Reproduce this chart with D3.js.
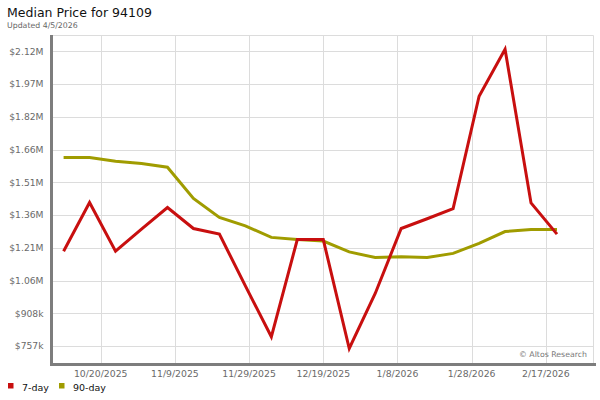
<!doctype html>
<html>
  <head>
    <meta charset="utf-8">
    <title>Median Price for 94109</title>
    <script src="https://cdnjs.cloudflare.com/ajax/libs/d3/7.8.5/d3.min.js"></script>
    <style>
      html, body { margin: 0; padding: 0; background: #fff; }
      svg { display: block; font-family: "DejaVu Sans", sans-serif; }
    </style>
  </head>
  <body>
    <div id="chart"></div>

    <script>
      // weekly sample dates
      const dates = [
        '10/10/2025', '10/17/2025', '10/24/2025', '10/31/2025', '11/7/2025',
        '11/14/2025', '11/21/2025', '11/28/2025', '12/5/2025', '12/12/2025',
        '12/19/2025', '12/26/2025', '1/2/2026', '1/9/2026', '1/16/2026',
        '1/23/2026', '1/30/2026', '2/6/2026', '2/13/2026', '2/20/2026'
      ];

      // median price, in dollars
      const sevenDay = [
        1195000, 1420000, 1195000, 1297000, 1397000,
        1300000, 1274000, 1035000, 800000, 1249000,
        1249000, 746000, 1000000, 1300000, 1345000,
        1392000, 1911000, 2128000, 1418000, 1274000
      ];
      const ninetyDay = [
        1628000, 1628000, 1611000, 1600000, 1583000,
        1439000, 1351000, 1312000, 1259000, 1249000,
        1242000, 1192000, 1166000, 1169000, 1166000,
        1185000, 1231000, 1286000, 1295000, 1295000
      ];

      const yTickValues = [757000, 908200, 1059400, 1210600, 1361800, 1513000, 1664200, 1815400, 1966600, 2117800];
      const yTickLabels = ['$757k', '$908k', '$1.06M', '$1.21M', '$1.36M', '$1.51M', '$1.66M', '$1.82M', '$1.97M', '$2.12M'];
      const xTickLabels = ['10/20/2025', '11/9/2025', '11/29/2025', '12/19/2025', '1/8/2026', '1/28/2026', '2/17/2026'];

      const series = [
        { name: '7-day', values: sevenDay, color: '#c80f0f' },
        { name: '90-day', values: ninetyDay, color: '#a09c00' }
      ];

      const parse = d3.utcParse('%m/%d/%Y');
      const W = 600, H = 400;
      const plot = { left: 52, right: 593, top: 35, bottom: 364 };

      const x = d3.scaleUtc()
        .domain([Date.UTC(2025, 9, 6, 21), Date.UTC(2026, 2, 1, 17)])
        .range([plot.left, plot.right]);
      const y = d3.scaleLinear()
        .domain([674300, 2193500])
        .range([plot.bottom, plot.top]);

      const svg = d3.select('#chart')
        .append('svg')
        .attr('width', W)
        .attr('height', H);

      // title
      svg.append('text')
        .attr('x', 7).attr('y', 17)
        .attr('font-size', 12.5)
        .attr('fill', '#111')
        .text('Median Price for 94109');
      svg.append('text')
        .attr('x', 7).attr('y', 28)
        .attr('font-size', 7.8)
        .attr('fill', '#666')
        .text('Updated 4/5/2026');

      // grid
      svg.append('g')
        .selectAll('line')
        .data(yTickValues)
        .join('line')
          .attr('x1', plot.left).attr('x2', plot.right)
          .attr('y1', d => Math.round(y(d)) + 0.5)
          .attr('y2', d => Math.round(y(d)) + 0.5)
          .attr('stroke', '#dcdcdc');

      svg.append('g')
        .selectAll('line')
        .data(xTickLabels)
        .join('line')
          .attr('x1', d => Math.round(x(parse(d))) + 0.5)
          .attr('x2', d => Math.round(x(parse(d))) + 0.5)
          .attr('y1', plot.top).attr('y2', plot.bottom)
          .attr('stroke', '#dcdcdc');

      // top and right border
      svg.append('path')
        .attr('d', `M${plot.left},${plot.top + 0.5}H${plot.right + 0.5}V${plot.bottom}`)
        .attr('fill', 'none')
        .attr('stroke', '#dcdcdc');

      // y labels
      svg.append('g')
        .selectAll('text')
        .data(yTickValues)
        .join('text')
          .attr('x', 43.5)
          .attr('y', d => y(d))
          .attr('dy', '0.36em')
          .attr('text-anchor', 'end')
          .attr('font-size', 9.2)
          .attr('fill', '#6a6a6a')
          .text((d, i) => yTickLabels[i]);

      // x labels
      svg.append('g')
        .selectAll('text')
        .data(xTickLabels)
        .join('text')
          .attr('x', d => x(parse(d)))
          .attr('y', 377)
          .attr('text-anchor', 'middle')
          .attr('font-size', 9.3)
          .attr('fill', '#6a6a6a')
          .text(d => d);

      // credit
      svg.append('text')
        .attr('x', 587).attr('y', 357)
        .attr('text-anchor', 'end')
        .attr('font-size', 7.8)
        .attr('fill', '#777')
        .text('\u00a9 Altos Research');

      // lines
      const line = d3.line()
        .x((d, i) => x(parse(dates[i])))
        .y(d => y(d));

      svg.append('g')
        .selectAll('path')
        .data(series.slice().reverse())
        .join('path')
          .attr('d', d => line(d.values))
          .attr('fill', 'none')
          .attr('stroke', d => d.color)
          .attr('stroke-width', 3);

      // thick left and bottom axis
      svg.append('path')
        .attr('d', `M${plot.left - 0.5},${plot.top}V${plot.bottom + 0.5}H596`)
        .attr('fill', 'none')
        .attr('stroke', '#7d7d7d')
        .attr('stroke-width', 3);

      // legend
      const legend = svg.append('g')
        .selectAll('g')
        .data(series)
        .join('g')
          .attr('transform', (d, i) => `translate(${[8, 59][i]},383)`);
      legend.append('rect')
        .attr('width', 5.5).attr('height', 5.5)
        .attr('fill', d => d.color);
      legend.append('text')
        .attr('x', [14, 13.7][0])
        .attr('y', 7.5)
        .attr('font-size', 9.5)
        .attr('fill', '#111')
        .text(d => d.name);
    </script>
  </body>
</html>
